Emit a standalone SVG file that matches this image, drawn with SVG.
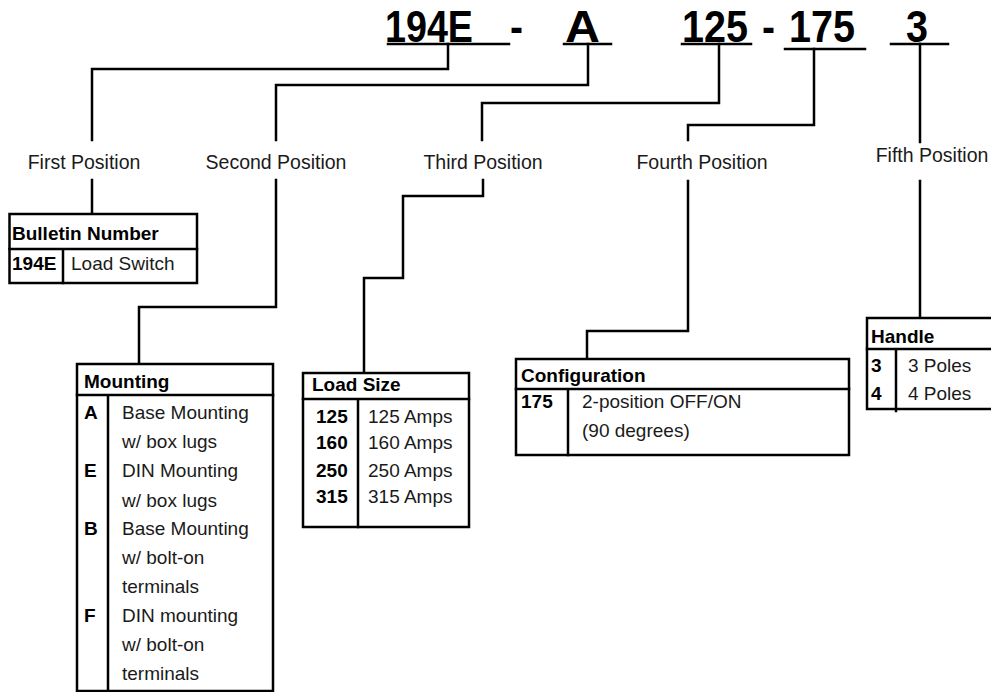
<svg xmlns="http://www.w3.org/2000/svg" width="991" height="692" viewBox="0 0 991 692">
<style>
.ln{fill:none;stroke:#000;stroke-width:2.5;stroke-linecap:square;stroke-linejoin:miter}
.bx{fill:#fff;stroke:#000;stroke-width:2.5}
.big{font-family:"Liberation Sans",Arial,sans-serif;font-weight:bold;font-size:44px;fill:#000}
.lab{font-family:"Liberation Sans",Arial,sans-serif;font-size:19.5px;fill:#1a1a1a}
.t{font-family:"Liberation Sans",Arial,sans-serif;font-size:19px;fill:#1a1a1a}
.b{font-family:"Liberation Sans",Arial,sans-serif;font-size:19px;font-weight:bold;fill:#000}
</style>
<rect width="991" height="692" fill="#fff"/>
<g id="code">
<text class="big" x="385" y="42" textLength="88" lengthAdjust="spacingAndGlyphs">194E</text>
<text class="big" x="510" y="42" textLength="13" lengthAdjust="spacingAndGlyphs">-</text>
<text class="big" x="565" y="42" textLength="35" lengthAdjust="spacingAndGlyphs">A</text>
<text class="big" x="682" y="42" textLength="66" lengthAdjust="spacingAndGlyphs">125</text>
<text class="big" x="762" y="42" textLength="13" lengthAdjust="spacingAndGlyphs">-</text>
<text class="big" x="789" y="42" textLength="66" lengthAdjust="spacingAndGlyphs">175</text>
<text class="big" x="906" y="42" textLength="22" lengthAdjust="spacingAndGlyphs">3</text>
</g>
<g id="labels">
<text class="lab" x="84" y="169" text-anchor="middle">First Position</text>
<text class="lab" x="276" y="169" text-anchor="middle">Second Position</text>
<text class="lab" x="483" y="169" text-anchor="middle">Third Position</text>
<text class="lab" x="702" y="169" text-anchor="middle">Fourth Position</text>
<text class="lab" x="932" y="162" text-anchor="middle">Fifth Position</text>
</g>
<g id="connectors">
<path class="ln" d="M388,44H509M564,44H611M682,44H751M785,49H865M891,44H948"/>
<path class="ln" d="M448,44V69H92V140M92,180V214"/>
<path class="ln" d="M588,44V85H276V140M276,180V307H139V364"/>
<path class="ln" d="M719,44V103H482V140M483,180V196H403V278H364V373"/>
<path class="ln" d="M814,49V125H688V140M688,181V331H587V359"/>
<path class="ln" d="M920,44V142M920,181V318"/>
</g>
<g id="bulletin">
<rect class="bx" x="9.5" y="214" width="187.5" height="69"/>
<path class="ln" d="M9.5,249H197M63,249V283"/>
<text class="b" x="12" y="240">Bulletin Number</text>
<text class="b" x="12" y="270">194E</text>
<text class="t" x="71" y="270">Load Switch</text>
</g>
<g id="mounting">
<rect class="bx" x="77" y="364" width="196" height="327"/>
<path class="ln" d="M77,395H273M108,395V691"/>
<text class="b" x="84" y="388">Mounting</text>
<text class="b" x="84" y="419">A</text>
<text class="t" x="122" y="419">Base Mounting</text>
<text class="t" x="122" y="448">w/ box lugs</text>
<text class="b" x="84" y="477">E</text>
<text class="t" x="122" y="477">DIN Mounting</text>
<text class="t" x="122" y="507">w/ box lugs</text>
<text class="b" x="84" y="535">B</text>
<text class="t" x="122" y="535">Base Mounting</text>
<text class="t" x="122" y="564">w/ bolt-on</text>
<text class="t" x="122" y="593">terminals</text>
<text class="b" x="84" y="622">F</text>
<text class="t" x="122" y="622">DIN mounting</text>
<text class="t" x="122" y="651">w/ bolt-on</text>
<text class="t" x="122" y="680">terminals</text>
</g>
<g id="loadsize">
<rect class="bx" x="303" y="373" width="166" height="154"/>
<path class="ln" d="M303,399H469M358,399V527"/>
<text class="b" x="312" y="391">Load Size</text>
<text class="b" x="316" y="423">125</text>
<text class="t" x="368" y="423">125 Amps</text>
<text class="b" x="316" y="449">160</text>
<text class="t" x="368" y="449">160 Amps</text>
<text class="b" x="316" y="477">250</text>
<text class="t" x="368" y="477">250 Amps</text>
<text class="b" x="316" y="503">315</text>
<text class="t" x="368" y="503">315 Amps</text>
</g>
<g id="configuration">
<rect class="bx" x="516" y="359" width="333" height="96"/>
<path class="ln" d="M516,389H849M568,389V455"/>
<text class="b" x="521" y="382">Configuration</text>
<text class="b" x="521" y="408">175</text>
<text class="t" x="582" y="408">2-position OFF/ON</text>
<text class="t" x="582" y="437">(90 degrees)</text>
</g>
<g id="handle">
<rect class="bx" x="867" y="318" width="126" height="91"/>
<path class="ln" d="M867,349H993M896,349V411"/>
<text class="b" x="871" y="343">Handle</text>
<text class="b" x="871" y="372">3</text>
<text class="t" x="908" y="372">3 Poles</text>
<text class="b" x="871" y="400">4</text>
<text class="t" x="908" y="400">4 Poles</text>
</g>
</svg>
